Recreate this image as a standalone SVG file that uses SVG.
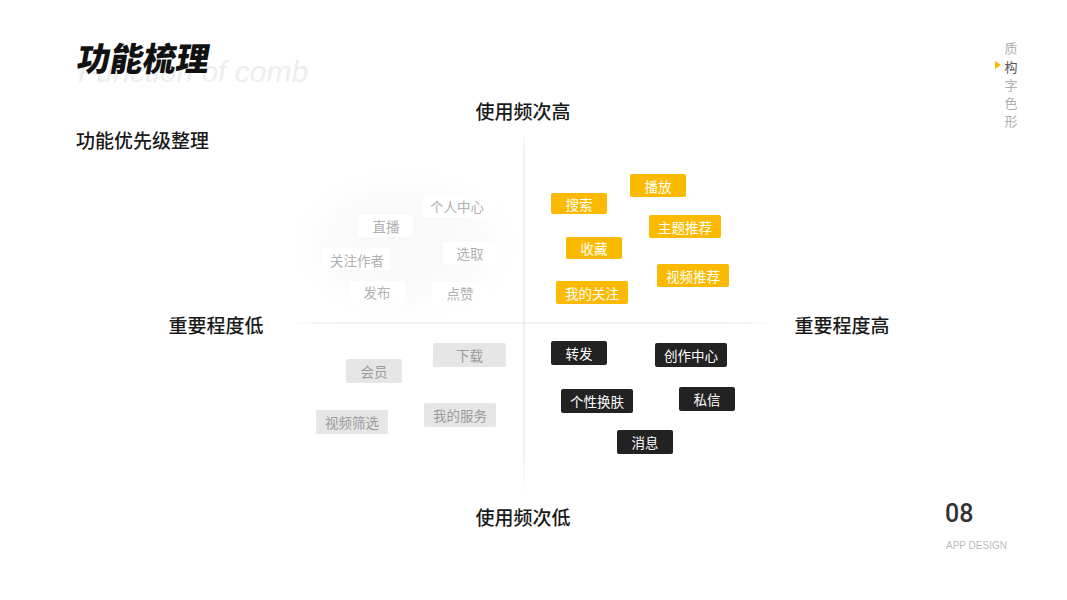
<svg xmlns="http://www.w3.org/2000/svg" width="1067" height="600" viewBox="0 0 1067 600">
<defs>
<style>
.t{font-family:"Noto Sans CJK SC","Noto Sans",sans-serif;text-anchor:middle;dominant-baseline:central}
.lbl{font-size:13.5px}
.y rect{fill:#fbba00}
.y text{fill:#ffffff}
.d rect{fill:#222222}
.d text{fill:#ffffff}
.g rect{fill:#e6e6e6}
.g text{fill:#9a9a9a}
.w rect{fill:#ffffff}
.w text{fill:#b0b0b0}
.axis{font-size:19px;fill:#1a1a1a;font-weight:500}
.nav{font-size:13px;fill:#b0b0b0}
</style>
<linearGradient id="vg" x1="0" y1="0" x2="0" y2="1">
<stop offset="0" stop-color="#e2e2e2" stop-opacity="0"/>
<stop offset="0.05" stop-color="#e2e2e2"/>
<stop offset="0.85" stop-color="#e2e2e2"/>
<stop offset="1" stop-color="#e2e2e2" stop-opacity="0"/>
</linearGradient>
<linearGradient id="hg" x1="0" y1="0" x2="1" y2="0">
<stop offset="0" stop-color="#e2e2e2" stop-opacity="0"/>
<stop offset="0.1" stop-color="#e2e2e2"/>
<stop offset="0.9" stop-color="#e2e2e2"/>
<stop offset="1" stop-color="#e2e2e2" stop-opacity="0"/>
</linearGradient>
<radialGradient id="blob" cx="0.5" cy="0.5" r="0.5">
<stop offset="0" stop-color="#f8f8f8"/>
<stop offset="0.6" stop-color="#fafafa"/>
<stop offset="1" stop-color="#ffffff" stop-opacity="0"/>
</radialGradient>
</defs>
<rect width="1067" height="600" fill="#ffffff"/>

<!-- header -->
<text x="78" y="82" font-family="Liberation Sans, sans-serif" font-size="30" font-style="italic" fill="#eeeeee">Function of comb</text>
<text x="76" y="71" font-family="Noto Sans CJK SC, sans-serif" font-size="33" font-weight="900" fill="#111" transform="skewX(-10) translate(12,0)">功能梳理</text>
<text x="76" y="148" font-family="Noto Sans CJK SC, sans-serif" font-size="19" font-weight="500" fill="#1a1a1a">功能优先级整理</text>

<!-- nav -->
<g id="nav">
<text class="t nav" x="1011" y="47">质</text>
<text class="t nav" x="1011" y="66" style="fill:#555">构</text>
<text class="t nav" x="1011" y="84">字</text>
<text class="t nav" x="1011" y="102">色</text>
<text class="t nav" x="1011" y="120">形</text>
<polygon points="995,61 995,69 1001,65" fill="#fbba00"/>
</g>

<!-- background blob -->
<ellipse cx="405" cy="245" rx="125" ry="85" fill="url(#blob)"/>

<!-- axes -->
<g id="connectors">
<rect x="523.5" y="133" width="1" height="365" fill="url(#vg)"/>
<rect x="288" y="322.5" width="488" height="1" fill="url(#hg)"/>
</g>
<text class="t axis" x="523" y="110">使用频次高</text>
<text class="t axis" x="523" y="516">使用频次低</text>
<text class="t axis" x="216" y="324">重要程度低</text>
<text class="t axis" x="842" y="324">重要程度高</text>

<!-- yellow -->
<g id="n-sousuo" class="y"><rect x="551" y="193" width="56" height="21" rx="2"/><text class="t lbl" x="579" y="203.5">搜索</text></g>
<g id="n-bofang" class="y"><rect x="630" y="174" width="56" height="23" rx="2"/><text class="t lbl" x="658" y="185.5">播放</text></g>
<g id="n-zhuti" class="y"><rect x="649" y="215" width="72" height="23" rx="2"/><text class="t lbl" x="685" y="226.5">主题推荐</text></g>
<g id="n-shoucang" class="y"><rect x="566" y="237" width="56" height="22" rx="2"/><text class="t lbl" x="594" y="248">收藏</text></g>
<g id="n-shipin" class="y"><rect x="657" y="264" width="72" height="23" rx="2"/><text class="t lbl" x="693" y="275.5">视频推荐</text></g>
<g id="n-guanzhu" class="y"><rect x="556" y="281" width="72" height="23" rx="2"/><text class="t lbl" x="592" y="292.5">我的关注</text></g>

<!-- dark -->
<g id="n-zhuanfa" class="d"><rect x="551" y="341" width="56" height="24" rx="2"/><text class="t lbl" x="579" y="353">转发</text></g>
<g id="n-chuangzuo" class="d"><rect x="655" y="343" width="72" height="24" rx="2"/><text class="t lbl" x="691" y="355">创作中心</text></g>
<g id="n-gexing" class="d"><rect x="561" y="389" width="72" height="24" rx="2"/><text class="t lbl" x="597" y="401">个性换肤</text></g>
<g id="n-sixin" class="d"><rect x="679" y="387" width="56" height="24" rx="2"/><text class="t lbl" x="707" y="399">私信</text></g>
<g id="n-xiaoxi" class="d"><rect x="617" y="430" width="56" height="24" rx="2"/><text class="t lbl" x="645" y="442">消息</text></g>

<!-- gray -->
<g id="n-xiazai" class="g"><rect x="433" y="343" width="73" height="24" rx="2"/><text class="t lbl" x="469.5" y="355">下载</text></g>
<g id="n-huiyuan" class="g"><rect x="346" y="359" width="56" height="24" rx="2"/><text class="t lbl" x="374" y="371">会员</text></g>
<g id="n-shaixuan" class="g"><rect x="316" y="410" width="72" height="24" rx="2"/><text class="t lbl" x="352" y="422">视频筛选</text></g>
<g id="n-fuwu" class="g"><rect x="424" y="403" width="72" height="24" rx="2"/><text class="t lbl" x="460" y="415">我的服务</text></g>

<!-- white -->
<g id="n-geren" class="w"><rect x="423" y="195" width="70" height="22" rx="2"/><text class="t lbl" x="457" y="206">个人中心</text></g>
<g id="n-zhibo" class="w"><rect x="358" y="215" width="55" height="22" rx="2"/><text class="t lbl" x="386" y="226">直播</text></g>
<g id="n-xuanqu" class="w"><rect x="443" y="242" width="54" height="22" rx="2"/><text class="t lbl" x="470" y="253">选取</text></g>
<g id="n-guanzhuzuozhe" class="w"><rect x="322" y="248" width="68" height="22" rx="2"/><text class="t lbl" x="357" y="260">关注作者</text></g>
<g id="n-fabu" class="w"><rect x="350" y="281" width="55" height="22" rx="2"/><text class="t lbl" x="377" y="292">发布</text></g>
<g id="n-dianzan" class="w"><rect x="432" y="282" width="55" height="22" rx="2"/><text class="t lbl" x="460" y="293">点赞</text></g>

<!-- footer -->
<text x="945" y="522" font-family="Roboto, sans-serif" font-size="25" font-weight="500" fill="#333">08</text>
<text x="946" y="549" font-family="Liberation Sans, sans-serif" font-size="10" fill="#bbbbbb">APP DESIGN</text>
</svg>
